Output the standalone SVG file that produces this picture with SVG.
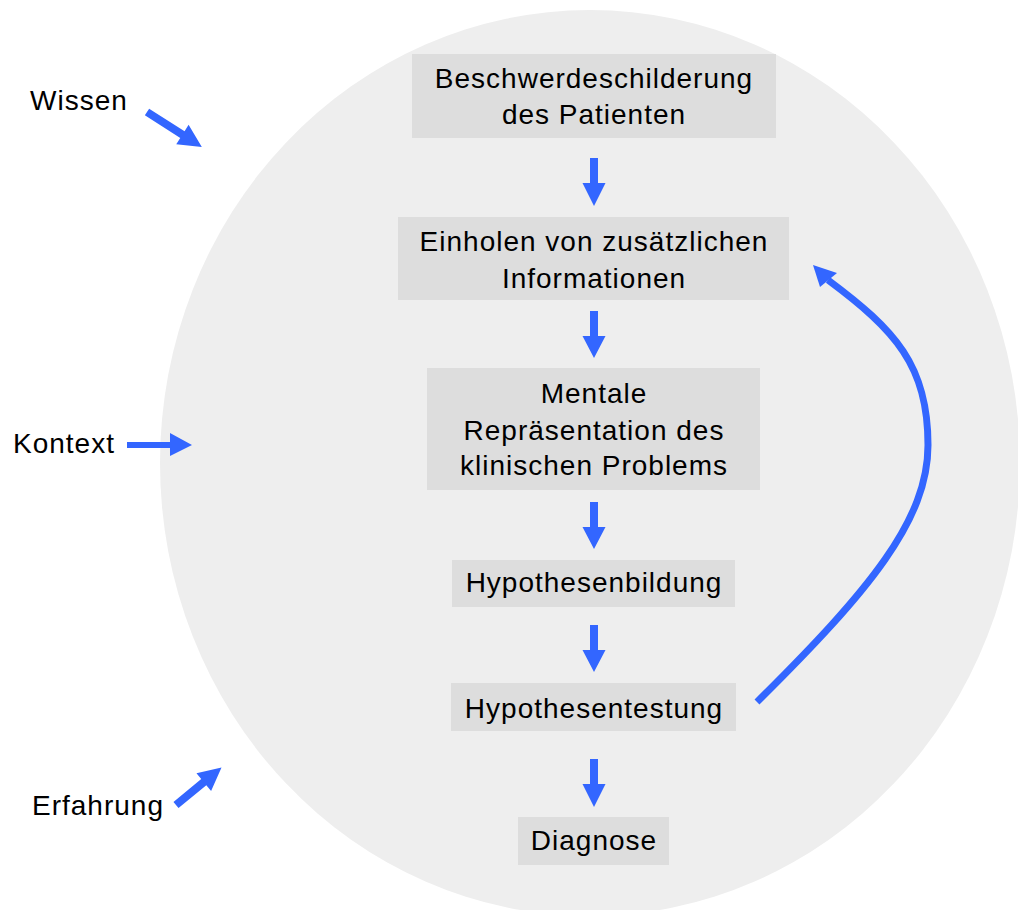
<svg xmlns="http://www.w3.org/2000/svg" width="1018" height="910" viewBox="0 0 1018 910">
<style>
.box{fill:#dddddd}
.t{font-family:"Liberation Sans",Arial,sans-serif;font-size:28px;fill:#000;text-anchor:middle;letter-spacing:1px}
.l{font-family:"Liberation Sans",Arial,sans-serif;font-size:28px;fill:#000;letter-spacing:1px}
.a{fill:#3366ff}
.c{fill:none;stroke:#3366ff;stroke-width:7}
</style>
<rect width="1018" height="910" fill="#ffffff"/>
<ellipse cx="590" cy="463" rx="430" ry="453" fill="#eeeeee"/>
<g id="n1"><rect class="box" x="412" y="54" width="364" height="84"/><text class="t" x="594" y="88">Beschwerdeschilderung</text><text class="t" x="594" y="124">des Patienten</text></g>
<g id="n2"><rect class="box" x="398" y="217" width="391" height="83"/><text class="t" x="594" y="251">Einholen von zusätzlichen</text><text class="t" x="594" y="288">Informationen</text></g>
<g id="n3"><rect class="box" x="427" y="368" width="333" height="122"/><text class="t" x="594" y="403">Mentale</text><text class="t" x="594" y="440">Repräsentation des</text><text class="t" x="594" y="475">klinischen Problems</text></g>
<g id="n4"><rect class="box" x="452" y="560" width="283" height="47"/><text class="t" x="594" y="592">Hypothesenbildung</text></g>
<g id="n5"><rect class="box" x="451" y="683" width="285" height="48"/><text class="t" x="594" y="718">Hypothesentestung</text></g>
<g id="n6"><rect class="box" x="518" y="817" width="151" height="48"/><text class="t" x="594" y="850">Diagnose</text></g>
<g id="wissen"><text class="l" x="30" y="110">Wissen</text></g>
<g id="kontext"><text class="l" x="13" y="453">Kontext</text></g>
<g id="erfahrung"><text class="l" x="32" y="815">Erfahrung</text></g>
<g id="connectors">
<polygon class="a" points="590,158 598,158 598,183 605.5,183 594,206 582.5,183 590,183"/>
<polygon class="a" points="590,311 598,311 598,336 605.5,336 594,358 582.5,336 590,336"/>
<polygon class="a" points="590,502 598,502 598,527 605.5,527 594,549 582.5,527 590,527"/>
<polygon class="a" points="590,625 598,625 598,650 605.5,650 594,672 582.5,650 590,650"/>
<polygon class="a" points="590,759 598,759 598,784 605.5,784 594,807 582.5,784 590,784"/>
<polygon class="a" points="127,442 170,442 170,433 192,445 170,456 170,448 127,448"/>
<g transform="translate(147,112) rotate(32.5)"><polygon class="a" points="0,-4 42,-4 42,-11.5 65,0 42,11.5 42,4 0,4"/></g>
<g transform="translate(176,805) rotate(-39.5)"><polygon class="a" points="0,-4 36,-4 36,-11.5 59,0 36,11.5 36,4 0,4"/></g>
<path class="c" d="M757,702 C870,590 928,520 928,445 C928,365 895,330 828,280"/>
<polygon class="a" points="813,265 837,273 820,287"/>
</g>
</svg>
